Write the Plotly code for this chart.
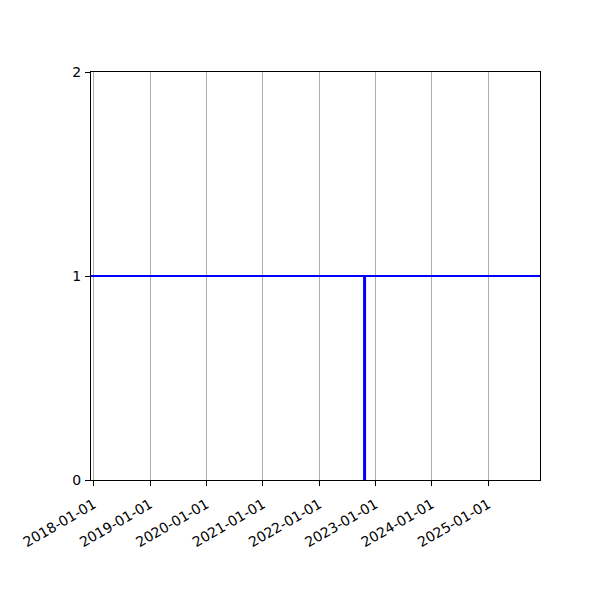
import plotly.graph_objects as go

# level line across the whole period and one event marker
level_dates = ["2017-12-14", "2025-12-02"]
level_values = [1, 1]
event_dates = ["2022-10-22", "2022-10-22"]
event_values = [0, 1]
tick_dates = ["2018-01-01", "2019-01-01", "2020-01-01", "2021-01-01",
              "2022-01-01", "2023-01-01", "2024-01-01", "2025-01-01"]
y_ticks = [0, 1, 2]

fig = go.Figure()
fig.add_trace(go.Scatter(x=level_dates, y=level_values, mode="lines",
                         line=dict(color="blue", width=2), hoverinfo="skip"))
fig.add_trace(go.Scatter(x=event_dates, y=event_values, mode="lines",
                         line=dict(color="blue", width=3), hoverinfo="skip"))

# page body adds ~8px offset, so margins are shifted to compensate
fig.update_layout(
    width=600, height=600,
    margin=dict(l=83, r=68, t=64, b=128),
    plot_bgcolor="white", paper_bgcolor="white",
    showlegend=False,
    font=dict(family="DejaVu Sans", size=14, color="black"),
)
fig.update_xaxes(
    type="date", range=[level_dates[0], level_dates[1]],
    tickmode="array", tickvals=tick_dates, ticktext=tick_dates,
    tickangle=-30, ticks="outside", ticklen=5, tickcolor="black",
    ticklabelstandoff=5,
    showgrid=True, gridcolor="#b0b0b0", gridwidth=1,
    showline=True, linecolor="black", linewidth=1, mirror=True,
    zeroline=False, automargin=False,
)
fig.update_yaxes(
    range=[0, 2], tickmode="array", tickvals=y_ticks,
    ticks="outside", ticklen=5, tickcolor="black",
    ticklabelstandoff=1,
    showgrid=False, zeroline=False, automargin=False,
    showline=True, linecolor="black", linewidth=1, mirror=True,
)
fig.write_html("out.html")
